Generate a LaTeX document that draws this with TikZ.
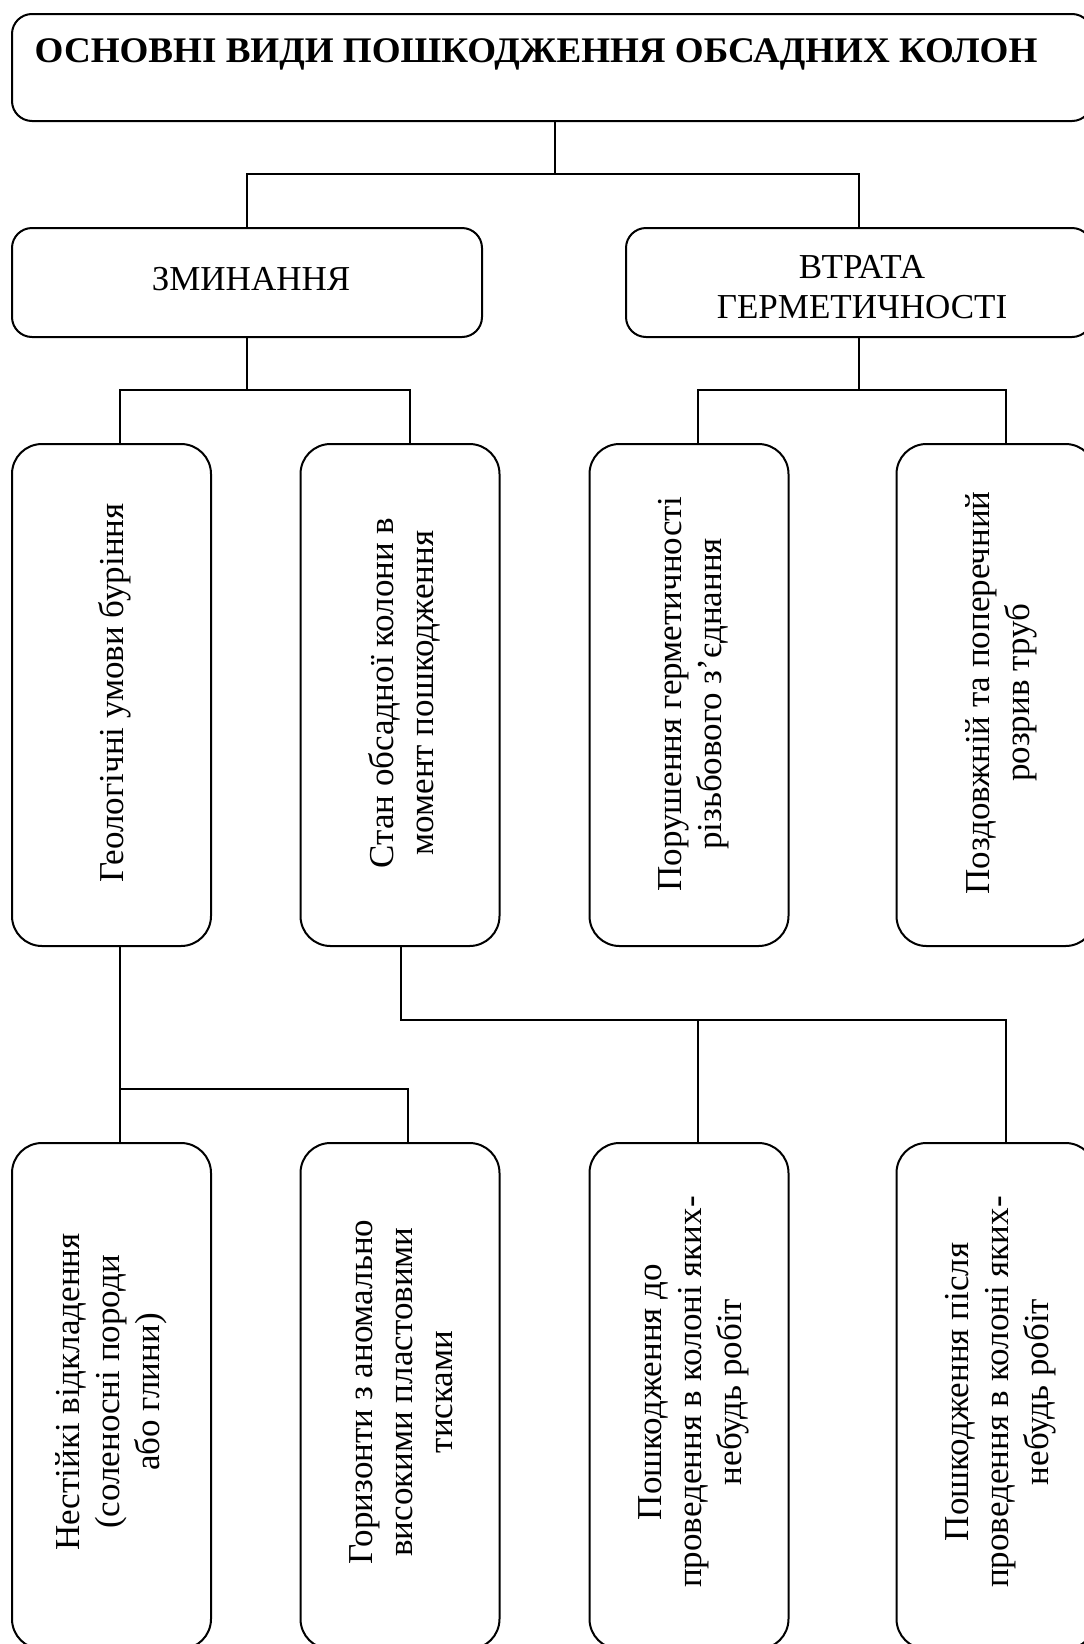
\documentclass[tikz,border=0pt]{standalone}
\usepackage{fontspec}
\setmainfont{Liberation Serif}
\begin{document}
\begin{tikzpicture}[x=1pt,y=-1pt,
  line width=2pt,
  widebox/.style={draw, line width=2pt, rounded corners=20pt, inner sep=0pt},
  tallbox/.style={draw, line width=2pt, rounded corners=30pt, inner sep=0pt, minimum width=199pt},
  vtxt/.style={font=\fontsize{35}{40}\selectfont, align=center, rotate=90, inner sep=0pt},
  htxt/.style={font=\fontsize{35}{40}\selectfont, align=center, inner sep=0pt},
  wire/.style={draw, line width=2pt}]
\useasboundingbox (0,0) rectangle (1084,1644);
\clip (0,0) rectangle (1084,1644);
\fill[white] (0,0) rectangle (1084,1644);

% top
\node[widebox, minimum width=1080pt, minimum height=107pt] (top) at (552,67.5) {};
\node[font=\fontsize{36}{40}\selectfont\bfseries, anchor=base, inner sep=0pt] (title) at (536,62)
  {\scalebox{1.03}[1]{ОСНОВНІ ВИДИ ПОШКОДЖЕННЯ ОБСАДНИХ КОЛОН}};

% level 2
\node[widebox, minimum width=470pt, minimum height=109pt] (zm) at (247,282.5) {};
\node[htxt] (zmt) at (251,279) {ЗМИНАННЯ};
\node[widebox, minimum width=466pt, minimum height=109pt] (vt) at (859,282.5) {};
\node[htxt] (vtt) at (862,287) {ВТРАТА\\ГЕРМЕТИЧНОСТІ};

% level 3
\node[tallbox, minimum height=502pt] (b1) at (111.5,695) {};
\node[tallbox, minimum height=502pt] (b2) at (400,695) {};
\node[tallbox, minimum height=502pt] (b3) at (689,695) {};
\node[tallbox, minimum height=502pt] (b4) at (996,695) {};
\node[vtxt] (t1) at (115,693) {Геологічні умови буріння};
\node[vtxt] (t2) at (404,693) {Стан обсадної колони в\\момент пошкодження};
\node[vtxt] (t3) at (694,694) {Порушення герметичності\\різьбового з’єднання};
\node[vtxt] (t4) at (1001,693) {Поздовжній та поперечний\\розрив труб};

% level 4
\node[tallbox, minimum height=506pt] (c1) at (111.5,1396) {};
\node[tallbox, minimum height=506pt] (c2) at (400,1396) {};
\node[tallbox, minimum height=506pt] (c3) at (689,1396) {};
\node[tallbox, minimum height=506pt] (c4) at (996,1396) {};
\node[vtxt] (u1) at (111,1392) {Нестійкі відкладення\\(соленосні породи\\або глини)};
\node[vtxt] (u2) at (401,1392) {Горизонти з аномально\\високими пластовими\\тисками};
\node[vtxt] (u3) at (694,1392) {Пошкодження до\\проведення в колоні яких-\\небудь робіт};
\node[vtxt] (u4) at (1001,1392) {Пошкодження після\\проведення в колоні яких-\\небудь робіт};

% junctions
\coordinate (j1) at (555,174);
\coordinate (j2) at (247,390);
\coordinate (j3) at (859,390);
\coordinate (j4) at (119.5,1089);
\coordinate (j5) at (401,1020);

% connectors
\draw[wire] (j1 |- top.south) -- (j1);
\draw[wire] (zm.north) |- (j1) -| (vt.north);
\draw[wire] (zm.south) -- (j2);
\draw[wire] ([xshift=8pt]b1.north) |- (j2) -| ([xshift=10pt]b2.north);
\draw[wire] (vt.south) -- (j3);
\draw[wire] ([xshift=9pt]b3.north) |- (j3) -| ([xshift=10pt]b4.north);
\draw[wire] ([xshift=8pt]b1.south) -- ([xshift=8pt]c1.north);
\draw[wire] (j4) -| ([xshift=8pt]c2.north);
\draw[wire] ([xshift=1pt]b2.south) -- (j5) -| ([xshift=10pt]c4.north);
\draw[wire] ([xshift=9pt]c3.north) -- ([xshift=9pt]c3.north |- j5);
\end{tikzpicture}
\end{document}
